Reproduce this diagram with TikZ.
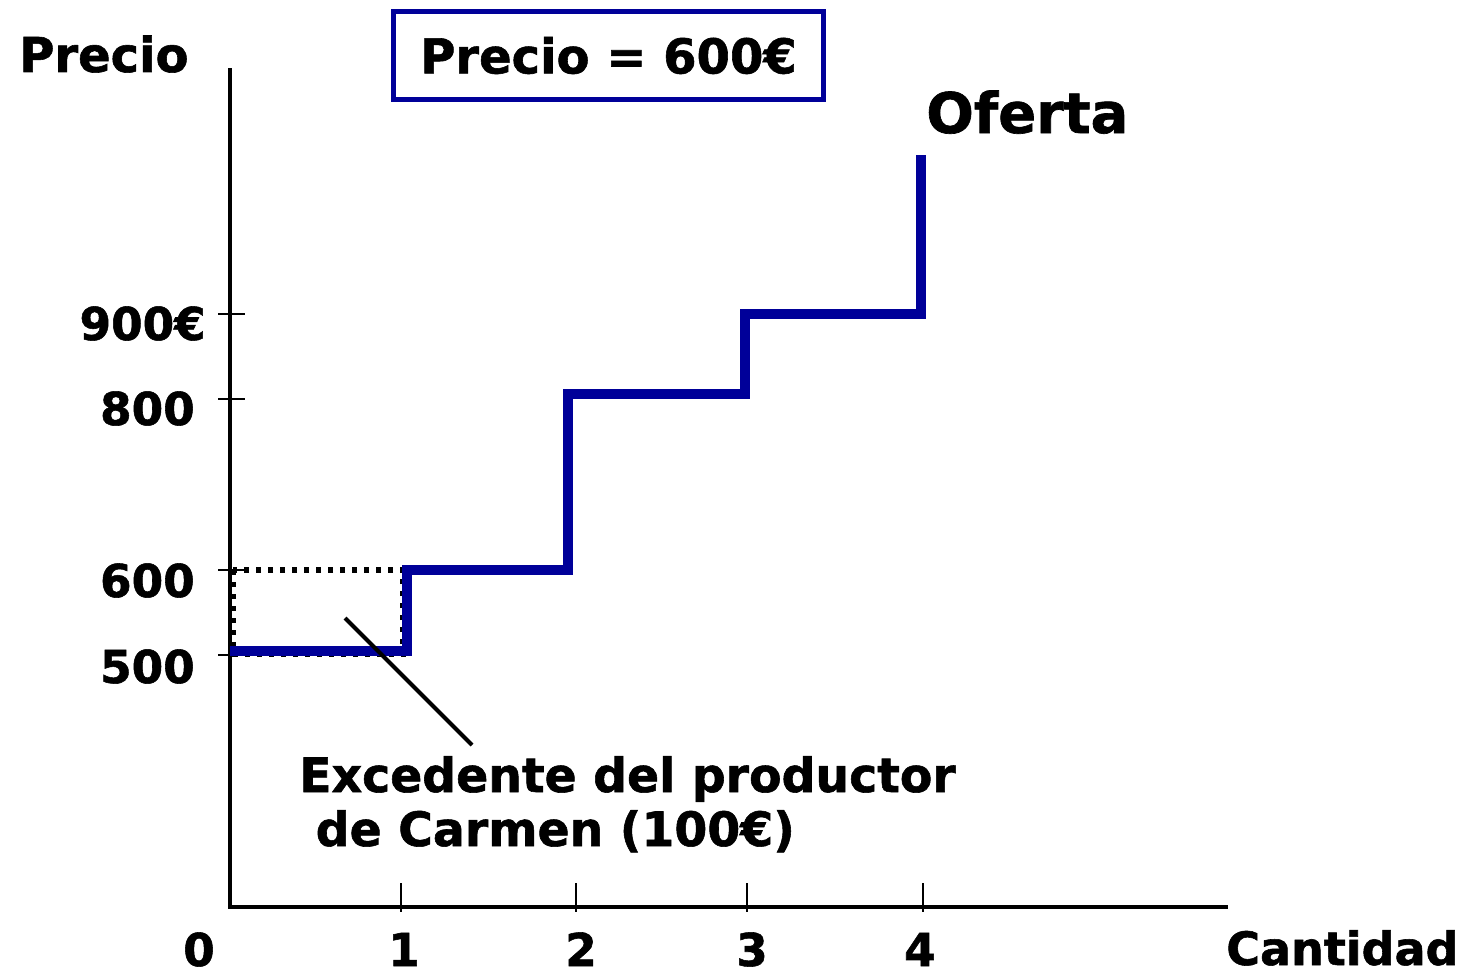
\documentclass[tikz,border=0pt]{standalone}
\usepackage{fontspec}
\setmainfont{DejaVu Sans}[BoldFeatures={FakeBold=1.2}]
\definecolor{ofertablue}{RGB}{0,0,153}
\tikzset{
  lbl/.style={inner sep=0.75pt, font=\bfseries\fontsize{34}{40}\selectfont},
  biglbl/.style={inner sep=0.75pt, font=\bfseries\fontsize{36}{44}\selectfont},
  notelbl/.style={inner sep=0.75pt, font=\bfseries\fontsize{35.5}{42}\selectfont},
  axis/.style={line width=3pt, line cap=rect},
  tick/.style={line width=1.5pt},
  oferta/.style={color=ofertablue, line width=7pt},
}

\begin{document}
\begin{tikzpicture}[x=0.75pt,y=0.75pt,yscale=-1,xscale=1]
        \useasboundingbox (0,0) rectangle (1473,974);

        %Axes
        \draw [axis] (230,70) -- (230,907) -- (1226,907) ;
        %Ticks
        \foreach \x in {401,576,747,923} \draw [tick] (\x,883) -- (\x,912) ;
        \foreach \y in {314,399,570,655} \draw [tick] (218,\y) -- (245,\y) ;

        %Dotted rectangle
        \draw [line width=4pt, dash pattern=on 4pt off 5pt] (233,570) rectangle (403,654) ;
        %Supply steps
        \draw [oferta] (230,651) -- (407,651) -- (407,570) -- (568,570) -- (568,394) -- (745,394) -- (745,314) -- (921,314) -- (921,155) ;

        % Text Node
        \draw (18,72) node [anchor=base west][biglbl] (precio) {Precio};
        % Text Node
        \draw (608.5,55.5) node [biglbl, draw=ofertablue, line width=3.75pt, minimum width=322pt, minimum height=66pt] (caja) {Precio = 600€};
        % Text Node
        \draw (925,133) node [anchor=base west][inner sep=0.75pt, font=\bfseries\fontsize{42}{50}\selectfont] (oferta) {Oferta};
        % Text Node
        \draw (207,340) node [anchor=base east][lbl] (p900) {900€};
        \draw (196,425) node [anchor=base east][lbl] (p800) {800};
        \draw (196,597) node [anchor=base east][lbl] (p600) {600};
        \draw (196,683) node [anchor=base east][lbl] (p500) {500};
        % Text Node
        \foreach \x/\n in {199/0,404/1,581/2,752/3,920/4}
          \draw (\x,966) node [anchor=base][lbl] (q\n) {\n};
        % Text Node
        \draw (1225,965) node [anchor=base west][inner sep=0.75pt, font=\bfseries\fontsize{34.5}{42}\selectfont] (cantidad) {Cantidad};
        % Text Node
        \draw (298,792) node [anchor=base west][notelbl] (exc1) {Excedente del productor};
        \draw (298,846) node [anchor=base west][notelbl] (exc2) {\ de Carmen (100€)};

        %Straight Lines
        \coordinate (punta) at (345,618) ;
        \coordinate (pie) at (472,745) ;
        \draw [line width=3pt] (punta) -- (pie) ;

\end{tikzpicture}
\end{document}
